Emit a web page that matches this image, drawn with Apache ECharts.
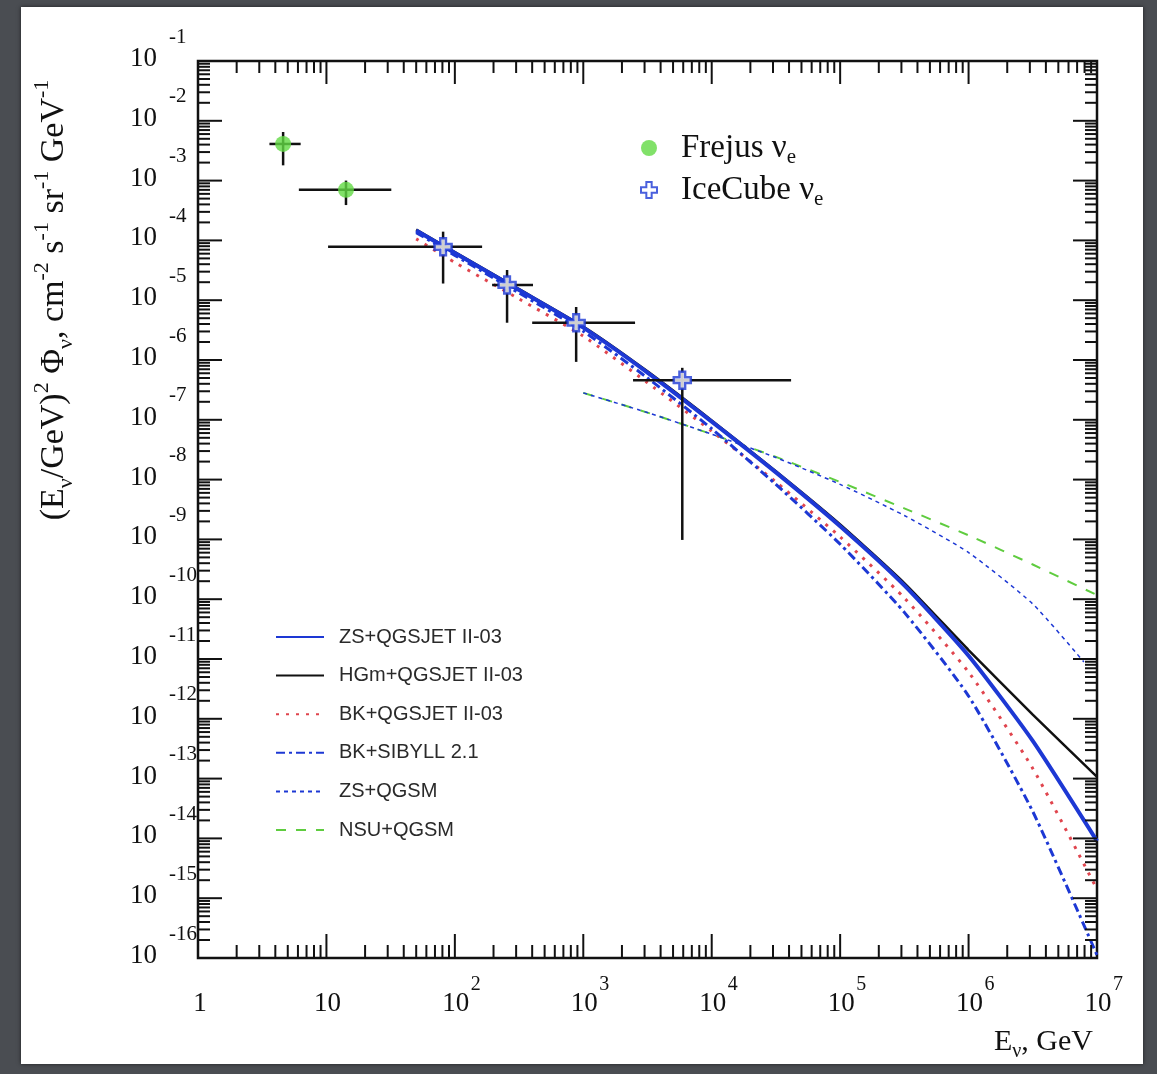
<!DOCTYPE html>
<html>
<head>
<meta charset="utf-8">
<script src="https://cdn.jsdelivr.net/npm/echarts@6/dist/echarts.min.js"></script>
<style>
  html, body { margin: 0; padding: 0; width: 1157px; height: 1074px; overflow: hidden; background: #4a4d52; }
  #panel { position: absolute; left: 21px; top: 7px; width: 1122px; height: 1057px; background: #fff; box-shadow: 0 0 4px rgba(0,0,0,0.6); }
  #chart { position: absolute; left: 0; top: 0; width: 1157px; height: 1074px; }
</style>
</head>
<body>
<div id="panel"></div>
<div id="chart"></div>
<script>
// Axis ranges: neutrino energy (GeV) and E^2-weighted flux
const X_MIN = 1, X_MAX = 1e7;
const Y_MIN = 1e-16, Y_MAX = 1e-1;

// Tick labels (base and exponent)
const xTickValues = [1, 10, 1e2, 1e3, 1e4, 1e5, 1e6, 1e7];
const xTickBase = ['1', '10', '10', '10', '10', '10', '10', '10'];
const xTickSup = ['', '', '2', '3', '4', '5', '6', '7'];
const yTickValues = [1e-1, 1e-2, 1e-3, 1e-4, 1e-5, 1e-6, 1e-7, 1e-8, 1e-9, 1e-10, 1e-11, 1e-12, 1e-13, 1e-14, 1e-15, 1e-16];
const yTickSup = ['-1', '-2', '-3', '-4', '-5', '-6', '-7', '-8', '-9', '-10', '-11', '-12', '-13', '-14', '-15', '-16'];

// Frejus nu_e measurements
const frejusE = [4.6, 14.2];
const frejusFlux = [4.1e-3, 7.0e-4];
const frejusELo = [3.6, 6.1];
const frejusEHi = [6.3, 32];
const frejusFluxLo = [1.8e-3, 3.9e-4];
const frejusFluxHi = [6.5e-3, 1.0e-3];

// IceCube nu_e measurements
const icecubeE = [81, 255, 880, 5900];
const icecubeFlux = [7.8e-5, 1.8e-5, 4.2e-6, 4.6e-7];
const icecubeELo = [10.3, 195, 400, 2440];
const icecubeEHi = [163, 406, 2530, 41500];
const icecubeFluxLo = [1.9e-5, 4.2e-6, 9.3e-7, 9.8e-10];
const icecubeFluxHi = [1.4e-4, 3.2e-5, 7.7e-6, 7.4e-7];

// Model predictions with QGSJET II-03 / SIBYLL 2.1
const qgsjetE = [50, 100, 316, 1000, 3160, 1e4, 3.16e4, 1e5, 3.16e5, 1e6, 3.16e6, 1e7];
const zsQgsjet = [1.46e-4, 6.17e-5, 1.48e-5, 3.47e-6, 6.17e-7, 9.33e-8, 1.32e-8, 1.66e-9, 1.70e-10, 1.135e-11, 4.27e-13, 9.02e-15];
const hgmQgsjet = [1.51e-4, 6.38e-5, 1.53e-5, 3.63e-6, 6.46e-7, 9.77e-8, 1.38e-8, 1.78e-9, 1.86e-10, 1.41e-11, 1.17e-12, 1.07e-13];
const bkQgsjet = [1.06e-4, 4.27e-5, 1.05e-5, 2.51e-6, 4.17e-7, 6.46e-8, 9.12e-9, 1.10e-9, 1.05e-10, 6.03e-12, 1.48e-13, 1.41e-15];
const bkSibyll = [1.35e-4, 5.62e-5, 1.32e-5, 3.02e-6, 5.01e-7, 7.08e-8, 8.32e-9, 8.32e-10, 6.03e-11, 2.40e-12, 2.82e-14, 1.12e-16];

// Model predictions with QGSM
const nsuQgsmE = [1000, 3160, 1e4, 3.16e4, 1e5, 3.16e5, 1e6, 3.16e6, 1e7];
const nsuQgsm = [2.82e-7, 1.32e-7, 5.75e-8, 2.40e-8, 9.12e-9, 3.31e-9, 1.17e-9, 3.80e-10, 1.17e-10];
const zsQgsmE = [1000, 3160, 1e4, 3.16e4, 1e5, 3.16e5, 1e6, 3.16e6, 7.9e6];
const zsQgsm = [2.82e-7, 1.32e-7, 5.75e-8, 2.34e-8, 8.32e-9, 2.51e-9, 6.03e-10, 8.32e-11, 8.91e-12];

const BLUE = '#1d38d4';
const INK = '#111';
const SERIF = '"Liberation Serif", "DejaVu Serif", serif';
const SANS = '"Liberation Sans", Arial, sans-serif';

const pairs = (xs, ys) => xs.map((x, i) => [x, ys[i]]);
const errRows = (e, f, eLo, eHi, fLo, fHi) => e.map((x, i) => [x, f[i], eLo[i], eHi[i], fLo[i], fHi[i]]);

// Error bars: horizontal energy bin and vertical flux range
function renderErrorBar(params, api) {
  const l = api.coord([api.value(2), api.value(1)]);
  const r = api.coord([api.value(3), api.value(1)]);
  const t = api.coord([api.value(0), api.value(5)]);
  const b = api.coord([api.value(0), api.value(4)]);
  const st = { stroke: INK, lineWidth: 2.5 };
  return {
    type: 'group',
    children: [
      { type: 'line', shape: { x1: l[0], y1: l[1], x2: r[0], y2: r[1] }, style: st },
      { type: 'line', shape: { x1: t[0], y1: t[1], x2: b[0], y2: b[1] }, style: st }
    ]
  };
}

// Frame ticks (major and 2..9 minor) on all four sides, plus tick labels
function renderFrame(params, api) {
  const bl = api.coord([X_MIN, Y_MIN]);
  const tr = api.coord([X_MAX, Y_MAX]);
  const left = bl[0], bottom = bl[1], right = tr[0], top = tr[1];
  const kids = [];
  const tick = (x1, y1, x2, y2) => kids.push({
    type: 'line', shape: { x1, y1, x2, y2 }, style: { stroke: INK, lineWidth: 2 }
  });
  for (let e = 0; e < 7; e++) {
    for (let m = 1; m <= 9; m++) {
      const x = api.coord([m * Math.pow(10, e), Y_MIN])[0];
      const major = m === 1;
      tick(x, bottom, x, bottom - (major ? 24 : 13));
      tick(x, top, x, top + (major ? 23 : 12));
    }
  }
  for (let e = -16; e < -1; e++) {
    for (let m = 1; m <= 9; m++) {
      const y = api.coord([X_MIN, m * Math.pow(10, e)])[1];
      const major = m === 1;
      tick(left, y, left + (major ? 24 : 12), y);
      tick(right, y, right - (major ? 24 : 12), y);
    }
  }
  xTickValues.forEach((v, i) => {
    const x = api.coord([v, Y_MIN])[0];
    kids.push({
      type: 'text', x: x + (i === 0 ? 2 : 1), y: bottom + 46,
      style: { text: xTickBase[i], fontFamily: SERIF, fontSize: 27, fill: INK, align: 'center', verticalAlign: 'middle' }
    });
    if (xTickSup[i]) {
      kids.push({
        type: 'text', x: x + 16, y: bottom + 27,
        style: { text: xTickSup[i], fontFamily: SERIF, fontSize: 20, fill: INK, align: 'left', verticalAlign: 'middle' }
      });
    }
  });
  yTickValues.forEach((v, i) => {
    const y = api.coord([X_MIN, v])[1];
    kids.push({
      type: 'text', x: left - 41, y: y - 2,
      style: { text: '10', fontFamily: SERIF, fontSize: 27, fill: INK, align: 'right', verticalAlign: 'middle' }
    });
    kids.push({
      type: 'text', x: left - 29, y: y - 24,
      style: { text: yTickSup[i], fontFamily: SERIF, fontSize: 21, fill: INK, align: 'left', verticalAlign: 'middle' }
    });
  });
  return { type: 'group', children: kids };
}

const lineBase = { type: 'line', symbol: 'none', smooth: 0.2, silent: true };

const option = {
  animation: false,
  backgroundColor: 'transparent',
  grid: { left: 198, top: 61, width: 899, height: 897, show: true, borderColor: INK, borderWidth: 2.5, backgroundColor: 'transparent' },
  xAxis: {
    type: 'log', logBase: 10, min: X_MIN, max: X_MAX,
    axisLine: { show: false }, axisTick: { show: false }, axisLabel: { show: false }, splitLine: { show: false }
  },
  yAxis: {
    type: 'log', logBase: 10, min: Y_MIN, max: Y_MAX,
    axisLine: { show: false }, axisTick: { show: false }, axisLabel: { show: false }, splitLine: { show: false }
  },
  legend: [
    {
      data: ['Frejus', 'IceCube'],
      orient: 'vertical', left: 640, top: 128, padding: 0, itemGap: 2,
      itemWidth: 16, itemHeight: 16, selectedMode: false,
      formatter: name => name + ' \u03bd{s|e}',
      textStyle: {
        fontFamily: SERIF, fontSize: 33, color: INK, lineHeight: 40, padding: [0, 0, 0, 19],
        rich: { s: { fontFamily: SERIF, fontSize: 21, color: INK, verticalAlign: 'bottom' } }
      }
    },
    {
      data: ['ZS+QGSJET II-03', 'HGm+QGSJET II-03', 'BK+QGSJET II-03', 'BK+SIBYLL 2.1', 'ZS+QGSM', 'NSU+QGSM'],
      orient: 'vertical', left: 275, top: 625, padding: 0, itemGap: 14.6,
      itemWidth: 48, itemHeight: 14, selectedMode: false,
      itemStyle: { opacity: 0 },
      textStyle: { fontFamily: SANS, fontSize: 20, color: '#2a2a2a', lineHeight: 24, padding: [0, 0, 0, 10] }
    }
  ],
  graphic: [
    {
      type: 'text', x: 54, y: 300, rotation: Math.PI / 2, silent: true,
      style: {
        text: '(E{sub|\u03bd}/GeV){sup|2} \u03a6{sub|\u03bd}, cm{sup|-2} s{sup|-1} sr{sup|-1} GeV{sup|-1}',
        fontFamily: SERIF, fontSize: 34, fill: INK, align: 'center', verticalAlign: 'middle', lineHeight: 46,
        rich: {
          sub: { fontFamily: SERIF, fontSize: 22, fill: INK, verticalAlign: 'bottom' },
          sup: { fontFamily: SERIF, fontSize: 22, fill: INK, verticalAlign: 'top' }
        }
      }
    },
    {
      type: 'text', x: 1093, y: 1042, silent: true,
      style: {
        text: 'E{sub|\u03bd}, GeV',
        fontFamily: SERIF, fontSize: 30, fill: INK, align: 'right', verticalAlign: 'middle', lineHeight: 40,
        rich: { sub: { fontFamily: SERIF, fontSize: 20, fill: INK, verticalAlign: 'bottom' } }
      }
    }
  ],
  series: [
    Object.assign({}, lineBase, {
      name: 'NSU+QGSM', z: 2, data: pairs(nsuQgsmE, nsuQgsm),
      lineStyle: { color: '#5fcc3f', width: 2, type: [10, 10] }, itemStyle: { color: '#5fcc3f' }
    }),
    Object.assign({}, lineBase, {
      name: 'ZS+QGSM', z: 2, data: pairs(zsQgsmE, zsQgsm),
      lineStyle: { color: BLUE, width: 1.5, type: [4, 4] }, itemStyle: { color: BLUE }
    }),
    Object.assign({}, lineBase, {
      name: 'BK+QGSJET II-03', z: 2, data: pairs(qgsjetE, bkQgsjet),
      lineStyle: { color: '#e0454e', width: 3, type: [3, 7] }, itemStyle: { color: '#e0454e' }
    }),
    Object.assign({}, lineBase, {
      name: 'BK+SIBYLL 2.1', z: 2, data: pairs(qgsjetE, bkSibyll),
      lineStyle: { color: BLUE, width: 3, type: [9, 4, 3, 4] }, itemStyle: { color: BLUE }
    }),
    Object.assign({}, lineBase, {
      name: 'HGm+QGSJET II-03', z: 2, data: pairs(qgsjetE, hgmQgsjet),
      lineStyle: { color: INK, width: 2.5 }, itemStyle: { color: INK }
    }),
    Object.assign({}, lineBase, {
      name: 'ZS+QGSJET II-03', z: 2, data: pairs(qgsjetE, zsQgsjet),
      lineStyle: { color: BLUE, width: 4 }, itemStyle: { color: BLUE }
    }),
    {
      type: 'custom', name: 'frejusErr', z: 3, silent: true,
      renderItem: renderErrorBar, encode: { x: [0, 2, 3], y: [1, 4, 5] },
      data: errRows(frejusE, frejusFlux, frejusELo, frejusEHi, frejusFluxLo, frejusFluxHi)
    },
    {
      type: 'custom', name: 'icecubeErr', z: 3, silent: true,
      renderItem: renderErrorBar, encode: { x: [0, 2, 3], y: [1, 4, 5] },
      data: errRows(icecubeE, icecubeFlux, icecubeELo, icecubeEHi, icecubeFluxLo, icecubeFluxHi)
    },
    {
      type: 'scatter', name: 'Frejus', z: 4, silent: true,
      symbol: 'circle', symbolSize: 16,
      itemStyle: { color: '#62d944' },
      data: pairs(frejusE, frejusFlux)
    },
    {
      type: 'scatter', name: 'IceCube', z: 4, silent: true,
      symbol: 'path://M4,0H8V4H12V8H8V12H4V8H0V4H4Z', symbolSize: 17,
      itemStyle: { color: '#ffffff', borderColor: BLUE, borderWidth: 2.5 },
      data: pairs(icecubeE, icecubeFlux)
    },
    {
      type: 'custom', name: 'frame', z: 10, silent: true,
      renderItem: renderFrame, encode: { x: 0, y: 1 },
      data: [[10, 1e-8]]
    }
  ]
};

const chart = echarts.init(document.getElementById('chart'), null, { renderer: 'canvas' });
chart.setOption(option);
</script>
</body>
</html>
